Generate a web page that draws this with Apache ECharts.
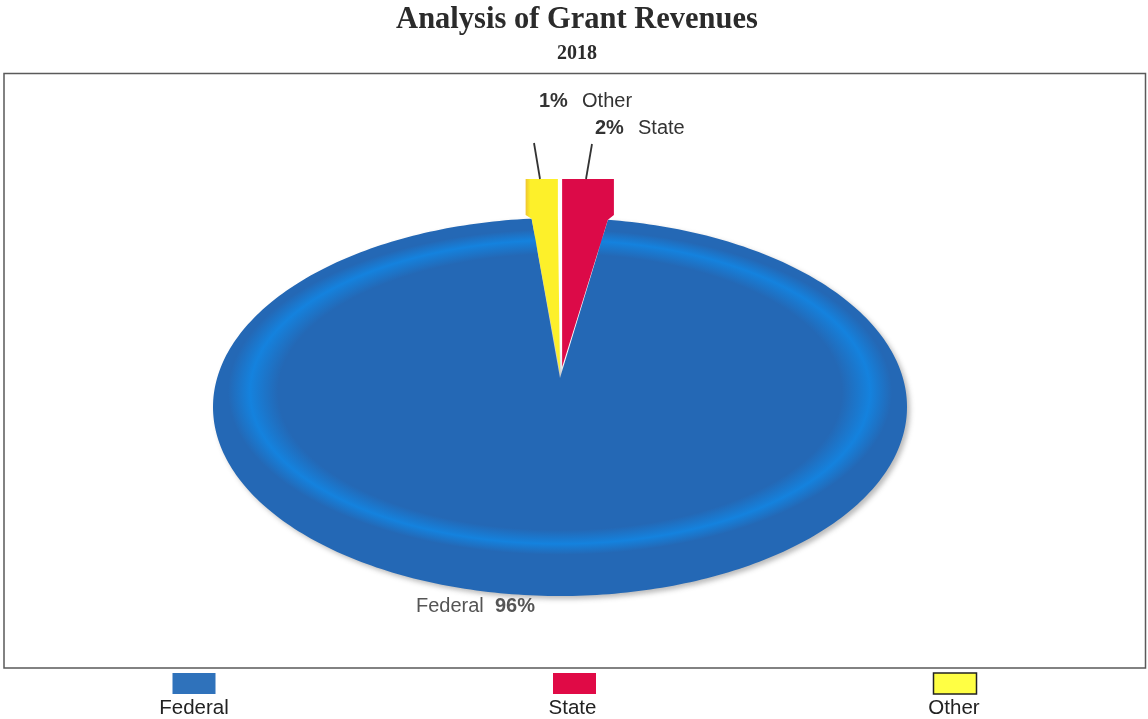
<!DOCTYPE html>
<html><head><meta charset="utf-8">
<style>html,body{margin:0;padding:0;background:#fff}#c{width:1148px;height:719px}</style>
<script src="https://cdn.jsdelivr.net/npm/echarts@6/dist/echarts.min.js"></script>
</head><body><div id="c"></div>
<script>
const categories = ['Federal', 'State', 'Other'];
const revenueShare = [96.3, 2.2, 1.3];
const sliceColors = ['#2468b5', '#dc0a48', '#fdf02a'];

const PIE = {cx: 560, cy: 407, rx: 347, ry: 189, apexY: 378, gap: 0.35};
const EXPLODE = {raise: 39, flare: 6};
const RING = {cy: 392, r: 310, scaleY: 0.49, outer: 332};
const total = revenueShare.reduce((a, b) => a + b, 0);
const deg = revenueShare.map(v => v / total * 360);
// clockwise from 12 o'clock: State, then Federal, then Other
const ranges = [
  [deg[1], 360 - deg[2]],
  [0, deg[1]],
  [-deg[2], 0]
];
const pt = t => {
  const a = t * Math.PI / 180;
  return [PIE.cx + PIE.rx * Math.sin(a), PIE.cy - PIE.ry * Math.cos(a)];
};
const LABEL_FONT = 'Liberation Sans, Arial, sans-serif';
const swatchX = [194, 574.5, 955];
const legendTextX = [194, 572.5, 954];

function richText(x, y, text, color) {
  return {type: 'text', x, y, silent: true, style: {
    text, fontFamily: LABEL_FONT, fontSize: 20, fill: color, verticalAlign: 'middle',
    rich: {
      b: {fontWeight: 'bold', fontSize: 20, fontFamily: LABEL_FONT, fill: color},
      s: {fontWeight: 'bold', fontSize: 20, fontFamily: LABEL_FONT, fill: color, padding: [0, 3, 0, 0]},
      n: {fontSize: 20, fontFamily: LABEL_FONT, fill: color}
    }
  }};
}

function renderSlice(params, api) {
  const i = params.dataIndex;
  const pct = Math.round(api.value(0)) + '%';
  const name = categories[i];
  const [t0, t1] = ranges[i];
  const children = [];
  if (i === 0) {
    const pts = [[PIE.cx, PIE.apexY]];
    for (let t = t0; t < t1; t += 1) pts.push(pt(t));
    pts.push(pt(t1));
    children.push({type: 'polygon', shape: {points: pts}, style: {
      fill: sliceColors[0], shadowColor: 'rgba(60,60,60,0.35)', shadowBlur: 5, shadowOffsetX: 3, shadowOffsetY: 3
    }});
    const stop = RING.r / RING.outer;
    const rad = d => (d - 90) * Math.PI / 180;
    children.push({type: 'group', x: PIE.cx, y: RING.cy, scaleY: RING.scaleY, children: [{
      type: 'sector',
      shape: {cx: 0, cy: 0, r0: 0, r: RING.outer, startAngle: rad(0.6), endAngle: rad(359.4), clockwise: true},
      style: {fill: {type: 'radial', x: 0.5, y: 0.5, r: 0.5, colorStops: [
        {offset: stop - 0.085, color: 'rgba(20,130,222,0)'},
        {offset: stop, color: 'rgba(20,130,222,1)'},
        {offset: 1, color: 'rgba(20,130,222,0)'}
      ]}}
    }]});
    children.push(richText(416, 606, `{n|${name}}  {b|${pct}}`, '#555'));
  } else {
    const state = i === 1;
    const a = pt(t0 + (state ? PIE.gap : 0));
    const b = pt(t1 - (state ? 0 : PIE.gap));
    const y = Math.min(a[1], b[1]) - 3;
    const top = y - EXPLODE.raise + 3;
    const pts = state
      ? [[a[0], PIE.apexY - 11], [b[0], b[1]], [b[0] + EXPLODE.flare, y], [b[0] + EXPLODE.flare, top], [a[0], top]]
      : [[PIE.cx, PIE.apexY - 5], [b[0], y], [b[0], top], [a[0] - EXPLODE.flare, top], [a[0] - EXPLODE.flare, y], [a[0], a[1]]];
    const fill = state ? sliceColors[1] : {type: 'linear', x: 0, y: 0, x2: 1, y2: 0, colorStops: [
      {offset: 0, color: '#efc52e'}, {offset: 0.14, color: sliceColors[2]}, {offset: 1, color: sliceColors[2]}
    ]};
    children.push({type: 'polygon', shape: {points: pts}, style: {fill}});
    const lx = state ? [592, 144, 586, 179] : [534, 143, 540, 179];
    children.push({type: 'line', shape: {x1: lx[0], y1: lx[1], x2: lx[2], y2: lx[3]}, style: {stroke: '#333', lineWidth: 1.8}});
    children.push(state
      ? richText(595, 128, `{s|${pct}}  {n|${name}}`, '#333')
      : richText(539, 101, `{s|${pct}}  {n|${name}}`, '#333'));
  }
  children.push({type: 'rect', shape: {x: swatchX[i] - 21.5, y: 673, width: 43, height: 21}, style: {
    fill: i === 0 ? '#2f72bb' : i === 1 ? '#e00a46' : '#ffff44',
    stroke: i === 2 ? '#222' : null, lineWidth: i === 2 ? 1.5 : 0
  }});
  children.push({type: 'text', x: legendTextX[i], y: 708, style: {
    text: name, fontFamily: LABEL_FONT, fontSize: 20.5, fill: '#222', align: 'center', verticalAlign: 'middle'
  }});
  return {type: 'group', children};
}

const chart = echarts.init(document.getElementById('c'));
chart.setOption({
  animation: false,
  backgroundColor: '#fff',
  title: {
    text: 'Analysis of Grant Revenues', subtext: '2018',
    left: 572, top: 0, textAlign: 'center', itemGap: 8,
    textStyle: {fontFamily: 'Liberation Serif, serif', fontWeight: 'bold', fontSize: 30.5, color: '#2b2b2b'},
    subtextStyle: {fontFamily: 'Liberation Serif, serif', fontWeight: 'bold', fontSize: 20, color: '#2b2b2b'}
  },
  graphic: [{type: 'rect', z: -1, shape: {x: 4, y: 73.5, width: 1141.5, height: 594.5}, style: {fill: '#fff', stroke: '#5a5a5a', lineWidth: 1.5}}],
  series: [{
    type: 'custom', coordinateSystem: 'none', renderItem: renderSlice,
    data: categories.map((n, i) => ({name: n, value: [revenueShare[i]]}))
  }]
});
</script></body></html>
